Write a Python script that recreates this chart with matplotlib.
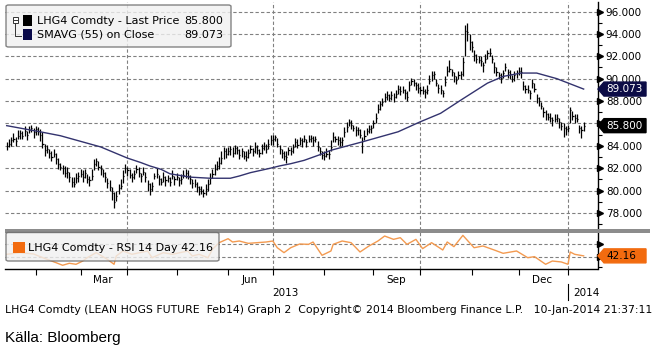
import matplotlib
matplotlib.use("Agg")
import matplotlib.pyplot as plt
from matplotlib.patches import FancyBboxPatch, Rectangle, Polygon
from matplotlib.lines import Line2D
from matplotlib.transforms import blended_transform_factory
from matplotlib.ticker import FixedLocator
import numpy as np
import pandas as pd

W, H = 654, 351

# LHG4 Comdty daily bars, trading days 15-Jan-2013 .. 10-Jan-2014
last_price = [
    84.0, 84.2, 84.5, 84.6, 84.4, 84.9, 85.1, 84.9, 85.3, 85.0, 85.4, 85.6, 85.2,  # jan
    85.5, 85.3, 85.0, 84.2, 83.6, 83.7, 83.4, 83.0, 83.3, 82.8, 82.4, 82.1, 82.0, 81.6, 81.7,
    81.2, 80.8, 80.6, 81.1, 81.3,  # feb
    81.5, 81.2, 81.6, 81.0, 80.9, 81.3, 82.4, 82.6, 82.1, 81.9, 81.6, 81.2, 80.7, 80.3, 79.8,
    79.0, 79.5, 80.2, 80.4, 81.3, 82.0,  # mar
    81.8, 81.4, 81.2, 81.5, 81.9, 81.6, 81.3, 81.7, 81.2, 80.6, 80.1, 80.4, 81.3, 81.5, 81.0,
    80.8, 81.2, 80.9, 81.1, 80.8, 81.3, 81.0,  # apr
    81.2, 80.9, 81.0, 81.4, 81.6, 81.3, 81.0, 80.7, 80.6, 80.3, 80.1, 80.0, 79.8, 80.1, 80.6,
    81.1, 81.5, 81.9, 82.2, 82.5, 82.9, 83.5, 83.3,  # may
    83.5, 83.7, 83.4, 83.8, 83.6, 83.2, 83.5, 83.1, 83.0, 83.4, 83.7, 83.5, 83.9, 83.6, 83.4,
    83.8, 84.0, 83.7, 84.2, 84.5,  # jun
    84.6, 84.8, 84.2, 83.7, 83.4, 83.1, 83.0, 83.6, 83.5, 83.9, 84.3, 84.1, 84.5, 84.4, 84.6,
    84.3, 84.6, 84.7, 84.5, 84.6, 83.9, 83.5, 83.2,  # jul
    83.1, 83.3, 83.3, 83.9, 84.8, 84.6, 84.5, 84.3, 84.5, 85.2, 85.7, 86.1, 85.9, 85.6, 85.4,
    85.4, 85.0, 84.4, 84.9, 85.3, 85.5, 85.6,  # aug
    86.0, 86.5, 87.3, 87.7, 87.9, 88.4, 88.5, 88.3, 88.5, 88.4, 88.6, 89.1, 88.9, 89.0, 88.7,
    88.4, 89.4, 89.8, 89.6, 89.4, 89.2,  # sep
    89.0, 88.9, 88.8, 89.0, 89.8, 90.3, 90.4, 89.6, 89.2, 89.0, 88.7, 89.7, 90.7, 90.9, 90.6,
    90.2, 89.9, 90.3, 90.4, 91.5, 94.3, 94.2, 93.3,  # oct
    92.8, 92.1, 91.8, 91.7, 91.6, 91.2, 91.8, 92.3, 92.3, 91.8, 91.0, 90.6, 90.3, 90.1, 90.5,
    91.0, 90.6, 90.4, 90.0, 90.3, 90.5,  # nov
    90.7, 90.6, 89.3, 89.1, 89.0, 88.7, 89.6, 89.1, 88.3, 88.0, 87.6, 87.0, 86.8, 86.6, 86.5,
    86.3, 86.4, 86.5, 86.1, 85.8, 85.6, 85.5,  # dec
    85.6, 87.2, 86.7, 86.5, 86.4, 85.6, 85.4, 85.8,  # jan 2014
]
# high above close / low below close for each bar
bar_up = [
    .3, .4, .3, .5, .4, .5, .3, .4, .5, .3, .4, .3, .4,
    .3, .4, .5, 1.0, .6, .4, .3, .5, .4, .6, .5, .4, .3, .6, .4, .5, .4, .6, .5, .4,
    .4, .6, .3, .5, .4, .6, .4, .3, .5, .4, .3, .5, .4, .6, .5, .9, .5, .4, .6, .5, .4,
    .3, .5, .4, .3, .4, .5, .3, .4, .5, .3, .6, .4, .3, .5, .4, .3, .5, .4, .3, .4, .5, .3,
    .4, .3, .5, .4, .3, .5, .4, .3, .4, .5, .3, .4, .3, .5, .4, .5, .4, .5, .4, .5, .6, .4, .5,
    .4, .3, .5, .3, .4, .5, .3, .4, .5, .3, .4, .3, .4, .5, .3, .4, .3, .5, .4, .5,
    .4, .2, .5, .4, .3, .4, .5, .3, .4, .3, .4, .5, .3, .3, .4, .3, .4, .3, .4, .3, .5, .4, .3,
    .4, .5, .3, .6, .4, .3, .4, .5, .3, .5, .4, .3, .4, .3, .4, .3, .5, .4, .5, .3, .4, .3,
    .3, .4, .4, .3, .4, .3, .4, .3, .4, .3, .4, .3, .4, .3, .4, .5, .4, .3, .4, .3, .4,
    .3, .4, .3, .4, .5, .4, .3, .4, .3, .4, .3, .5, .4, .8, .3, .4, .3, .4, .3, .4, .5, .8, .7,
    .6, .5, .4, .3, .4, .3, .4, .3, .4, .3, .5, .4, .3, .4, .3, .4, .3, .4, .3, .4, .3,
    .3, .4, .5, .3, .4, .3, .4, .5, .3, .4, .3, .5, .4, .3, .4, .3, .4, .3, .4, .3, .4, .3,
    .3, .3, .4, .3, .4, .3, .4, .3,
]
bar_down = [
    .4, .3, .5, .3, .4, .3, .5, .3, .4, .5, .3, .4, .5,
    .5, .3, .6, .4, .5, .3, .5, .4, .3, .4, .5, .3, .5, .4, .6, .4, .5, .3, .4, .5,
    .3, .4, .5, .3, .5, .4, .6, .4, .3, .5, .4, .4, .5, .3, .6, .6, .4, .5, .3, .6, .4,
    .5, .3, .4, .5, .3, .4, .5, .3, .4, .6, .5, .4, .3, .4, .5, .3, .4, .5, .3, .4, .3, .5,
    .3, .5, .4, .3, .5, .3, .4, .5, .3, .4, .5, .3, .4, .5, .6, .5, .4, .5, .4, .6, .5, .7, .4,
    .3, .5, .4, .5, .3, .4, .5, .3, .4, .5, .3, .4, .5, .3, .4, .5, .4, .3, .5, .4,
    .5, .4, .3, .4, .5, .4, .5, .4, .3, .5, .4, .3, .4, .5, .3, .4, .3, .4, .5, .3, .4, .3, .4,
    .4, .3, .5, .4, .5, .3, .4, .3, .5, .4, .5, .3, .4, .3, .5, .4, .3, 1.0, .4, .3, .4, .5,
    .4, .5, .4, .5, .3, .5, .4, .3, .4, .5, .3, .5, .4, .3, .5, .4, .5, .4, .3, .4, .5,
    .4, .3, .5, .4, .3, .5, .4, .3, .5, .4, .3, .4, .5, .3, .4, .5, .4, .3, .4, 1.3, 2.3, .8, .7,
    .4, .5, .4, .3, .5, .6, .4, .5, .3, .4, .5, .4, .3, .5, .4, .3, .5, .4, .3, .5, .4,
    .4, .5, .3, .4, .3, .5, .4, .3, .5, .4, .3, .4, .5, .3, .4, .5, .3, .4, .5, .4, .8, .5,
    .4, 1.2, .4, .5, .3, .5, .7, .5,
]

# SMAVG (55), read at trading-day positions
sma_idx = [0, 15, 24, 33, 42, 48, 54, 60, 64, 69, 73, 82, 91, 100, 104, 109, 118, 122, 127, 133,
           140, 145, 159, 167, 175, 185, 194, 204, 215, 222, 230, 237, 246, 258]
sma_val = [85.8, 85.25, 84.9, 84.4, 83.9, 83.4, 82.9, 82.5, 82.2, 81.9, 81.5, 81.2, 81.1, 81.1,
           81.3, 81.6, 82.0, 82.2, 82.4, 82.7, 83.2, 83.6, 84.35, 84.8, 85.25, 86.15, 86.9, 88.2,
           89.6, 90.2, 90.5, 90.5, 90.0, 89.07]

# RSI 14 day
rsi_idx = [0, 6, 12, 18, 22, 25, 28, 31, 34, 36, 40, 45, 48, 49, 52, 56, 63, 65, 70, 74,
           81, 83, 86, 90, 92, 95, 99, 101, 104, 108, 112, 116, 119, 121, 124, 127, 131, 135, 137, 141,
           145, 146, 150, 154, 158, 162, 166, 169, 173, 176, 179, 183, 186, 190, 195, 197, 200, 204, 209, 213,
           218, 222, 228, 233, 236, 241, 244, 248, 251, 252, 254, 258]
rsi_val = [44.5, 47, 45, 37, 32, 28, 31, 29.5, 34.4, 39.4, 47, 37, 29.5, 42, 49.5, 44.5, 49.5, 39.4, 47, 44.5,
           49.5, 42, 44.5, 39.4, 52, 62, 68, 63, 64.5, 61, 62, 63, 64.5, 54.4, 47, 54.4, 60, 59.5, 63, 43,
           49.5, 59.5, 64.5, 62, 48, 57, 64.5, 72, 67, 69.5, 59.5, 67, 53, 62, 51, 63, 56, 73, 54.4, 57,
           51, 46, 49.5, 39.4, 41, 29.5, 34.4, 33, 29.5, 48, 44.5, 42.16]

price_ticks = [78, 80, 82, 84, 86, 88, 90, 92, 94, 96]
rsi_grid = [40, 60]
month_labels = {3: "Mar", 6: "Jun", 9: "Sep", 12: "Dec"}
last_txt, sma_txt, rsi_txt = "85.800", "89.073", "42.16"
footer = ("LHG4 Comdty (LEAN HOGS FUTURE  Feb14) Graph 2  Copyright\u00a9 2014 "
          "Bloomberg Finance L.P.   10-Jan-2014 21:37:11")

dates = pd.bdate_range("2013-01-15", periods=len(last_price))
xs = np.arange(len(dates))
closes = np.array(last_price)
highs = closes + np.array(bar_up)
lows = closes - np.array(bar_down)

month_start = [i for i in range(1, len(dates)) if dates[i].month != dates[i - 1].month]
quarter_start = [i for i in month_start if dates[i].month in (1, 4, 7, 10)]

fig = plt.figure(figsize=(W / 100, H / 100), dpi=100)
plt.rcParams['font.family'] = 'DejaVu Sans'


def fx(px):
    return px / W


def fy(py):
    return 1 - py / H


L, R = 5.5, 597.5
ax1 = fig.add_axes([fx(L), fy(229.5), fx(R) - fx(L), fy(2) - fy(229.5)])
ax2 = fig.add_axes([fx(L), fy(268.7), fx(R) - fx(L), fy(232.3) - fy(268.7)])
xlim = (-0.54, 264.2)

grid_kw = dict(color='#808080', lw=0.8, linestyle=(0, (3, 2)), zorder=0)

# --- price panel
ax1.set_xlim(*xlim)
ax1.set_ylim(76.52, 96.85)
for v in price_ticks:
    ax1.axhline(v, **grid_kw)
for q in quarter_start:
    ax1.axvline(q, **grid_kw)
ax1.vlines(xs, lows, highs, color='black', lw=0.9, zorder=3)
ax1.hlines(closes, xs, xs + 0.5, color='black', lw=0.9, zorder=3)
ax1.plot(sma_idx, sma_val, color='#33336e', lw=1.0, zorder=4)

for s in ['top', 'left', 'bottom']:
    ax1.spines[s].set_visible(False)
ax1.spines['right'].set_color('black')
ax1.spines['right'].set_linewidth(1)
ax1.set_xticks([])
ax1.yaxis.tick_right()
ax1.set_yticks(price_ticks)
ax1.set_yticklabels(['%.3f' % v for v in price_ticks], fontsize=7.5)
ax1.yaxis.set_minor_locator(FixedLocator([v + 1 for v in price_ticks[:-1]] + [77]))
ax1.tick_params(axis='y', which='major', length=0, pad=6)
ax1.tick_params(axis='y', which='minor', length=3, width=0.8, direction='out', color='black')
tr1 = blended_transform_factory(ax1.transAxes, ax1.transData)
ax1.plot([1 + 2.5 / (R - L)] * len(price_ticks), price_ticks, transform=tr1, ls='none',
         marker='>', ms=4, color='black', clip_on=False)

# --- RSI panel
ax2.set_xlim(*xlim)
ax2.set_ylim(22.86, 77.6)
for v in rsi_grid:
    ax2.axhline(v, **grid_kw)
for q in quarter_start:
    ax2.axvline(q, **grid_kw)
ax2.plot(rsi_idx, rsi_val, color='#f39a50', lw=1.0, zorder=3)
for s in ['top', 'left']:
    ax2.spines[s].set_visible(False)
for s in ['right', 'bottom']:
    ax2.spines[s].set_color('black')
    ax2.spines[s].set_linewidth(1)
ax2.yaxis.tick_right()
ax2.set_yticks(rsi_grid)
ax2.set_yticklabels([])
ax2.yaxis.set_minor_locator(FixedLocator([25]))
ax2.tick_params(axis='y', which='major', length=0)
ax2.tick_params(axis='y', which='minor', length=3, width=0.8, direction='out')
tr2 = blended_transform_factory(ax2.transAxes, ax2.transData)
ax2.plot([1 + 2.5 / (R - L)] * len(rsi_grid), rsi_grid, transform=tr2, ls='none',
         marker='>', ms=4, color='black', clip_on=False)
ax2.set_xticks(month_start)
ax2.set_xticklabels([])
ax2.tick_params(axis='x', length=4, width=0.8, direction='out', color='black')

# month and year labels
for i, s in enumerate(month_start[:-1]):
    m = dates[s].month
    if m in month_labels:
        mid = (s + month_start[i + 1] - 1) / 2
        ax2.text(mid, -0.32, month_labels[m], transform=blended_transform_factory(ax2.transData, ax2.transAxes),
                 ha='center', va='center', fontsize=7.5)
jan14 = quarter_start[-1]
trx = blended_transform_factory(ax2.transData, fig.transFigure)
fig.text(fx(285), fy(293), "2013", ha='center', va='center', fontsize=7.5)
ax2.text(jan14 + 2.5, fy(293), "2014", transform=trx, ha='left', va='center', fontsize=7.5)
fig.add_artist(Line2D([jan14, jan14], [fy(284), fy(300)], transform=trx, color='black', lw=0.8))

# grey separator between panels
fig.add_artist(Rectangle((fx(5), fy(232.6)), fx(650) - fx(5), fy(229.4) - fy(232.6),
                         transform=fig.transFigure, facecolor='#8c8c8c', edgecolor='none', zorder=2))


def box(x0, y0, x1, y1):
    fig.add_artist(FancyBboxPatch((fx(x0), fy(y1)), fx(x1) - fx(x0), fy(y0) - fy(y1),
                                  boxstyle='round,pad=0,rounding_size=0.004', transform=fig.transFigure,
                                  facecolor='#f0f0f0', edgecolor='#666666', lw=1, alpha=0.8, zorder=4))


def square(x0, y0, x1, y1, color):
    fig.add_artist(Rectangle((fx(x0), fy(y1)), fx(x1) - fx(x0), fy(y0) - fy(y1),
                             transform=fig.transFigure, facecolor=color, edgecolor='none', zorder=5))


# price legend
box(6, 5, 231, 47)
fig.add_artist(Rectangle((fx(12.5), fy(23)), fx(5) - fx(0), fy(0) - fy(6), transform=fig.transFigure,
                         facecolor='white', edgecolor='#333333', lw=0.7, zorder=5))
fig.add_artist(Line2D([fx(13.5), fx(16.5)], [fy(20), fy(20)], color='#333333', lw=0.7, zorder=6))
fig.add_artist(Line2D([fx(15), fx(15), fx(21)], [fy(23), fy(36), fy(36)], color='#333333', lw=0.7, zorder=5))
square(22.5, 15, 31.5, 26, 'black')
square(22.5, 29, 31.5, 39.5, '#0a0a4a')
fig.text(fx(37), fy(21), "LHG4 Comdty - Last Price", fontsize=8, va='center', zorder=6)
fig.text(fx(223), fy(21), last_txt, fontsize=8, va='center', ha='right', zorder=6)
fig.text(fx(37), fy(34.5), "SMAVG (55) on Close", fontsize=8, va='center', zorder=6)
fig.text(fx(223), fy(34.5), sma_txt, fontsize=8, va='center', ha='right', zorder=6)

# RSI legend
box(6, 232.5, 219, 261)
square(13.3, 242, 25, 252.7, '#f26b0f')
fig.text(fx(28.3), fy(248), "LHG4 Comdty - RSI 14 Day " + rsi_txt, fontsize=8, va='center', zorder=6)


def value_tag(ax, val, text, face, color):
    yp = H - ax.transData.transform((0, val))[1]
    px = [598, 604, 646, 646, 604]
    py = [yp, yp - 7, yp - 7, yp + 7, yp + 7]
    fig.add_artist(Polygon([(fx(a), fy(b)) for a, b in zip(px, py)], closed=True,
                           transform=fig.transFigure, facecolor=face, edgecolor=face, zorder=5))
    fig.text(fx(606), fy(yp), text, color=color, fontsize=7.5, va='center', ha='left', zorder=6)


value_tag(ax1, sma_val[-1], sma_txt, '#0c0c46', 'white')
value_tag(ax1, last_price[-1], last_txt, 'black', 'white')
value_tag(ax2, rsi_val[-1], rsi_txt, '#f26b0f', 'black')

# footer lines
ft = fig.text(fx(5), fy(310), footer, fontsize=7, va='center', ha='left')
fig.canvas.draw()
wpx = ft.get_window_extent().width
ft.set_fontsize(7 * 645 / wpx)
fig.text(fx(5), fy(338), "K\u00e4lla: Bloomberg", fontsize=11, va='center', ha='left',
         family='Liberation Sans')

fig.savefig("out.png", dpi=100)
